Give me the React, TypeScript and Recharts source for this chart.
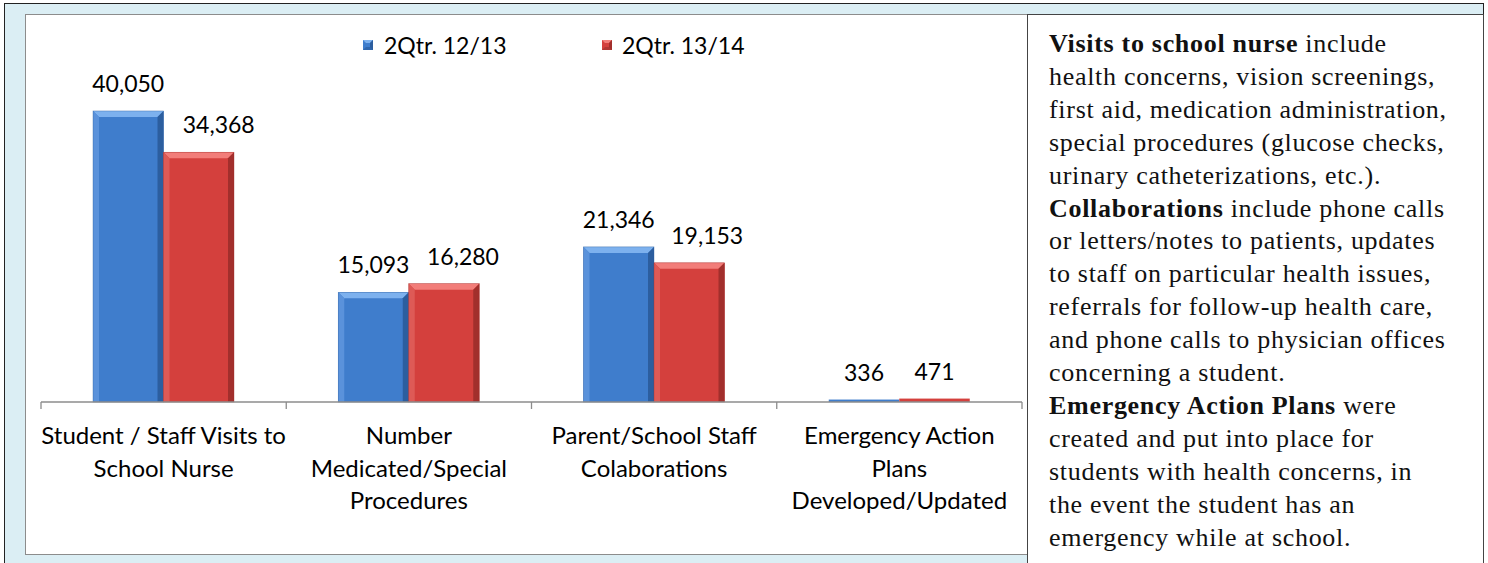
import React from "react";
import { BarChart, Bar, XAxis, YAxis, LabelList } from "recharts";

const categories = [
  "Student / Staff Visits to School Nurse",
  "Number Medicated/Special Procedures",
  "Parent/School Staff Colaborations",
  "Emergency Action Plans Developed/Updated",
];
const categoryLines = [
  ["Student / Staff Visits to", "School Nurse"],
  ["Number", "Medicated/Special", "Procedures"],
  ["Parent/School Staff", "Colaborations"],
  ["Emergency Action", "Plans", "Developed/Updated"],
];
const seriesNames = ["2Qtr. 12/13", "2Qtr. 13/14"];
const q2_1213 = [40050, 15093, 21346, 336];
const q2_1314 = [34368, 16280, 19153, 471];

// label nudges (style only)
const redLabelNudge = [20, 19, 18, 0];

const data = categories.map((c, i) => ({
  name: c,
  idx: i,
  a: q2_1213[i],
  b: q2_1314[i],
}));

const FONT = "Lato, 'Open Sans', sans-serif";
const CHART_W = 1002;
const CHART_H = 540;
const M = { top: 61, right: 5, left: 16, bottom: 12 };
const BAND = (CHART_W - M.left - M.right) / categories.length;

const palettes: Record<string, { base: string; top: string; left: string; right: string; bottom: string }> = {
  blue: { base: "#3F7DCC", top: "#7DB1EE", left: "#5A92DB", right: "#2C5E9F", bottom: "#2F66AD" },
  red: { base: "#D4403D", top: "#F27D79", left: "#DE5A56", right: "#A22F2C", bottom: "#B13633" },
};

const BevelBar = (pal: string) => (props: any) => {
  const { x, y, width, height } = props;
  const p = palettes[pal];
  if (height <= 0) return null;
  if (height < 10) {
    return <rect x={x} y={y} width={width} height={height} fill={p.base} />;
  }
  const b = 6;
  return (
    <g>
      <rect x={x} y={y} width={width} height={height} fill={p.base} />
      <polygon points={`${x},${y} ${x + width},${y} ${x + width - b},${y + b} ${x + b},${y + b}`} fill={p.top} />
      <polygon points={`${x},${y} ${x + b},${y + b} ${x + b},${y + height} ${x},${y + height}`} fill={p.left} />
      <polygon points={`${x + width},${y} ${x + width - b},${y + b} ${x + width - b},${y + height} ${x + width},${y + height}`} fill={p.right} />
      <rect x={x} y={y} width={width} height={height} fill="none" stroke={p.right} strokeWidth={0.6} strokeOpacity={0.6} />
    </g>
  );
};

const Tick = (props: any) => {
  const { x, y, payload, index } = props;
  const axisY = y - 7;
  const i = typeof index === "number" ? index : categories.indexOf(payload.value);
  const lines = categoryLines[i] || [payload.value];
  const left = x - BAND / 2;
  const right = x + BAND / 2;
  return (
    <g>
      <line x1={left} y1={axisY} x2={left} y2={axisY + 7} stroke="#8C8C8C" strokeWidth={1.3} />
      {i === categories.length - 1 && (
        <line x1={right} y1={axisY} x2={right} y2={axisY + 7} stroke="#8C8C8C" strokeWidth={1.3} />
      )}
      <text textAnchor="middle" fontFamily={FONT} fontSize={24} fill="#000">
        {lines.map((l, k) => (
          <tspan key={k} x={x} y={axisY + 42 + k * 32.5}>
            {l}
          </tspan>
        ))}
      </text>
    </g>
  );
};

const LegendSquare = ({ pal }: { pal: string }) => {
  const p = palettes[pal];
  return (
    <svg width={10} height={10} style={{ display: "block" }}>
      <rect x={0} y={0} width={10} height={10} fill={p.base} />
      <polygon points="0,0 10,0 7,3 3,3" fill={p.top} />
      <polygon points="10,0 7,3 7,10 10,10" fill={p.right} />
      <polygon points="0,10 3,7 7,7 10,10" fill={p.bottom} />
    </svg>
  );
};

const legendItem = (pal: string, name: string, left: number, gap: number) => (
  <div
    style={{
      position: "absolute",
      left,
      top: 29,
      height: 32,
      display: "flex",
      alignItems: "center",
      whiteSpace: "nowrap",
      fontFamily: FONT,
      fontSize: 23,
      color: "#000",
    }}
  >
    <LegendSquare pal={pal} />
    <span style={{ marginLeft: gap }}>{name}</span>
  </div>
);

const makeLabel = (nudges: number[] | null) => (props: any) => {
  const { x, y, width, value, index } = props;
  const dx = nudges ? nudges[index] || 0 : 0;
  return (
    <text x={x + width / 2 + dx} y={y - 19} textAnchor="middle" fontFamily={FONT} fontSize={23} fill="#000">
      {Number(value).toLocaleString("en-US")}
    </text>
  );
};

const noteStyle: React.CSSProperties = {
  fontFamily: "'Liberation Serif', 'Times New Roman', serif",
  fontSize: 26,
  letterSpacing: "0.7px",
  lineHeight: "32.9px",
  color: "#111",
  whiteSpace: "nowrap",
};

const noteLines: React.ReactNode[] = [
  <><b>Visits to school nurse</b> include</>,
  "health concerns, vision screenings,",
  "first aid, medication administration,",
  "special procedures (glucose checks,",
  "urinary catheterizations, etc.).",
  <><b>Collaborations</b> include phone calls</>,
  "or letters/notes to patients, updates",
  "to staff on particular health issues,",
  "referrals for follow-up health care,",
  "and phone calls to physician offices",
  "concerning a student.",
  <><b>Emergency Action Plans</b> were</>,
  "created and put into place for",
  "students with health concerns, in",
  "the event the student has an",
  "emergency while at school.",
];

export default function App() {
  return (
    <div style={{ position: "absolute", left: 0, top: 0, width: 1488, height: 563, background: "#fff", overflow: "hidden" }}>
      {/* outer frame */}
      <div
        style={{
          position: "absolute",
          left: 4,
          top: 3,
          width: 1480,
          height: 565,
          background: "#DBEEF4",
          border: "1px solid #222",
          boxSizing: "border-box",
        }}
      />
      {/* chart box */}
      <div
        style={{
          position: "absolute",
          left: 25,
          top: 14,
          width: 1003,
          height: 541,
          background: "#fff",
          border: "1px solid #8C8C8C",
          boxSizing: "border-box",
        }}
      />
      {/* note box */}
      <div
        style={{
          position: "absolute",
          left: 1027,
          top: 14,
          width: 457,
          height: 560,
          background: "#fff",
          border: "1px solid #444",
          boxSizing: "border-box",
          padding: "13px 0 0 21px",
          ...noteStyle,
        }}
      >
        {noteLines.map((l, i) => (
          <div key={i}>{l}</div>
        ))}
      </div>
      {legendItem("blue", seriesNames[0], 363, 11)}
      {legendItem("red", seriesNames[1], 602, 10)}
      <div style={{ position: "absolute", left: 25, top: 14 }}>
        <BarChart width={CHART_W} height={CHART_H} data={data} margin={M} barGap={0} barSize={70.5}>
          <XAxis
            dataKey="name"
            interval={0}
            tickSize={7}
            tickMargin={0}
            tickLine={false}
            axisLine={{ stroke: "#8C8C8C", strokeWidth: 1.3 }}
            tick={<Tick />}
            height={140}
          />
          <YAxis hide domain={[0, 45000]} />
          <Bar dataKey="a" name={seriesNames[0]} fill="#3F7DCC" isAnimationActive={false} shape={BevelBar("blue")}>
            <LabelList dataKey="a" content={makeLabel(null)} />
          </Bar>
          <Bar dataKey="b" name={seriesNames[1]} fill="#D4403D" isAnimationActive={false} shape={BevelBar("red")}>
            <LabelList dataKey="b" content={makeLabel(redLabelNudge)} />
          </Bar>
        </BarChart>
      </div>
    </div>
  );
}
